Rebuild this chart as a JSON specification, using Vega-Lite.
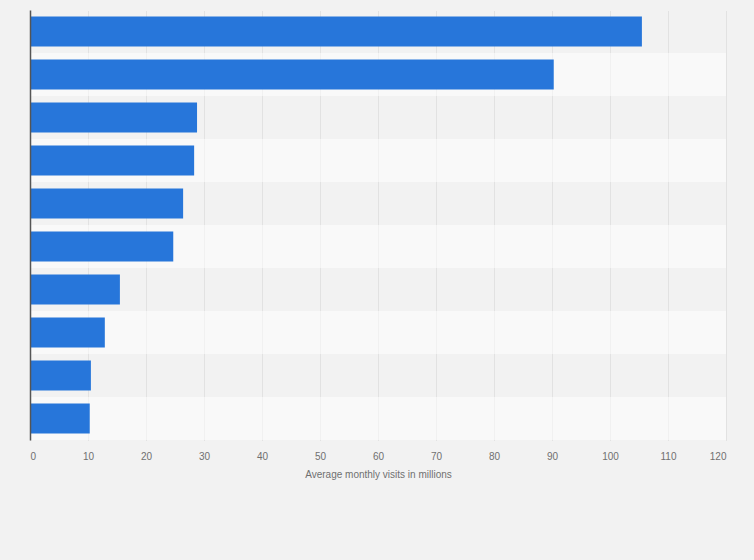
{
  "$schema": "https://vega.github.io/schema/vega-lite/v6.json",
  "width": 696,
  "height": 430,
  "autosize": "none",
  "padding": {"left": 30, "top": 10, "right": 28, "bottom": 120},
  "background": "#f2f2f2",
  "config": {
    "view": {"stroke": null},
    "font": "Liberation Sans"
  },
  "data": {
    "values": [
      {"rank": 1, "site": "Site 1", "visits": 105.5},
      {"rank": 2, "site": "Site 2", "visits": 90.3},
      {"rank": 3, "site": "Site 3", "visits": 28.8},
      {"rank": 4, "site": "Site 4", "visits": 28.3},
      {"rank": 5, "site": "Site 5", "visits": 26.4},
      {"rank": 6, "site": "Site 6", "visits": 24.7},
      {"rank": 7, "site": "Site 7", "visits": 15.5},
      {"rank": 8, "site": "Site 8", "visits": 12.9},
      {"rank": 9, "site": "Site 9", "visits": 10.5},
      {"rank": 10, "site": "Site 10", "visits": 10.3}
    ]
  },
  "encoding": {
    "y": {
      "field": "site",
      "type": "nominal",
      "sort": {"field": "rank", "order": "ascending"},
      "scale": {"paddingInner": 0, "paddingOuter": 0},
      "axis": {"title": null, "labels": false, "ticks": false, "grid": false, "domain": true, "domainColor": "#555555", "domainWidth": 1.5}
    }
  },
  "layer": [
    {
      "mark": {"type": "rect", "fill": "#ffffff"},
      "encoding": {
        "x": {"datum": 0, "type": "quantitative"},
        "x2": {"datum": 120},
        "fillOpacity": {
          "condition": {"test": "datum.rank % 2 == 0", "value": 0.5},
          "value": 0
        }
      }
    },
    {
      "mark": {"type": "bar", "color": "#2776da", "height": {"band": 0.7}},
      "encoding": {
        "x": {
          "field": "visits",
          "type": "quantitative",
          "scale": {"domain": [0, 120], "nice": false},
          "axis": {
            "title": "Average monthly visits in millions",
            "titleFont": "Liberation Sans",
            "titleFontSize": 10,
            "titleFontWeight": "normal",
            "titleColor": "#707070",
            "titlePadding": 8,
            "values": [0, 10, 20, 30, 40, 50, 60, 70, 80, 90, 100, 110, 120],
            "labelFontSize": 10,
            "labelColor": "#707070",
            "labelPadding": 11,
            "ticks": false,
            "domain": false,
            "grid": true,
            "gridColor": "#d2d2d2",
            "gridDash": [1, 1],
            "gridWidth": 1,
            "zindex": 0
          }
        }
      }
    }
  ]
}
